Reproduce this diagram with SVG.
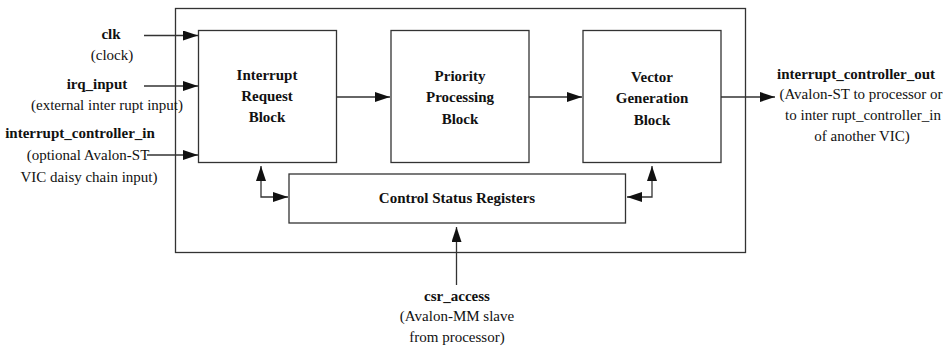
<svg xmlns="http://www.w3.org/2000/svg" width="947" height="348" viewBox="0 0 947 348">
<style>
.box{fill:#fff;stroke:#333;stroke-width:1.3}
.ln{fill:none;stroke:#333;stroke-width:1.3}
text{font-family:'Times New Roman',Times,'Liberation Serif','Noto Serif','DejaVu Serif',serif;font-size:15px;fill:#111;text-anchor:middle}
.b{font-weight:bold}
</style>
<defs>
<marker id="ah" markerUnits="userSpaceOnUse" markerWidth="15" markerHeight="10" refX="15" refY="5" orient="auto-start-reverse" viewBox="0 0 15 10">
<path d="M0,0 L15,5 L0,10 z" fill="#111"/>
</marker>
</defs>
<rect width="947" height="348" fill="#fff"/>
<g id="outer"><rect class="box" x="175.5" y="8.5" width="570" height="244"/></g>
<g id="irb"><rect class="box" x="198.5" y="30.5" width="138" height="132"/>
<text class="b" x="267" y="80">Interrupt</text><text class="b" x="267" y="101">Request</text><text class="b" x="267" y="122">Block</text></g>
<g id="ppb"><rect class="box" x="391" y="30.5" width="138" height="132"/>
<text class="b" x="460" y="81">Priority</text><text class="b" x="460" y="102">Processing</text><text class="b" x="460" y="124">Block</text></g>
<g id="vgb"><rect class="box" x="583" y="30.5" width="138" height="132"/>
<text class="b" x="652" y="82">Vector</text><text class="b" x="652" y="103">Generation</text><text class="b" x="652" y="125">Block</text></g>
<g id="csr"><rect class="box" x="289" y="174" width="336.5" height="49"/>
<text class="b" x="457" y="203">Control Status Registers</text></g>
<g id="clk"><text class="b" x="111" y="39">clk</text><text x="112" y="60">(clock)</text></g>
<g id="irq"><text class="b" x="97" y="89">irq_input</text><text x="107" y="110">(external inter rupt input)</text></g>
<g id="icin"><text class="b" x="80" y="138">interrupt_controller_in</text><text x="88" y="160">(optional  Avalon-ST</text><text x="89" y="182">VIC daisy chain input)</text></g>
<g id="icout"><text class="b" x="856" y="79">interrupt_controller_out</text><text x="861" y="99">(Avalon-ST to processor or</text><text x="863" y="120">to inter rupt_controller_in</text><text x="862" y="141">of another  VIC)</text></g>
<g id="csra"><text class="b" x="457" y="301">csr_access</text><text x="457" y="321">(Avalon-MM slave</text><text x="457" y="342">from processor)</text></g>
<g id="connectors">
<path class="ln" d="M144,35.5 H198" marker-end="url(#ah)"/>
<path class="ln" d="M144,86 H198" marker-end="url(#ah)"/>
<path class="ln" d="M147,155 H198" marker-end="url(#ah)"/>
<path class="ln" d="M336.5,97 H390" marker-end="url(#ah)"/>
<path class="ln" d="M529,97 H582" marker-end="url(#ah)"/>
<path class="ln" d="M721,97 H775" marker-end="url(#ah)"/>
<path class="ln" d="M261,166 V197 H288" marker-start="url(#ah)" marker-end="url(#ah)"/>
<path class="ln" d="M652,166 V197 H627" marker-start="url(#ah)" marker-end="url(#ah)"/>
<path class="ln" d="M456.5,285 V227" marker-end="url(#ah)"/>
</g>
</svg>
